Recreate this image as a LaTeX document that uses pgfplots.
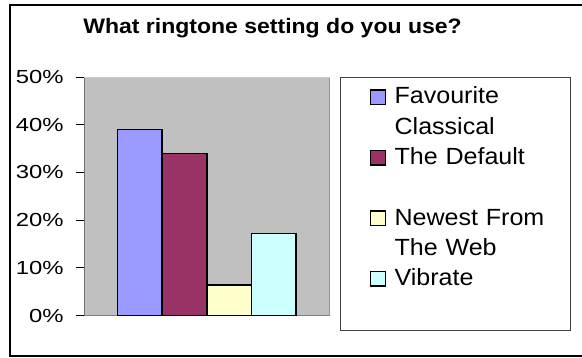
\documentclass[border=0pt]{standalone}
\usepackage{pgfplots}
\pgfplotsset{compat=1.18}
\usepackage{fontspec}
\setmainfont{Liberation Sans}
\newfontfamily\titlefam[FakeStretch=1.1]{Liberation Sans}
\newfontfamily\tickfam[FakeStretch=1.26]{Liberation Sans}
\newfontfamily\legfam[FakeStretch=1.07]{Liberation Sans}
\definecolor{c1}{HTML}{9999FF}
\definecolor{c2}{HTML}{993366}
\definecolor{c3}{HTML}{FFFFCC}
\definecolor{c4}{HTML}{CCFFFF}
\definecolor{plotgray}{HTML}{C0C0C0}
\definecolor{framedark}{HTML}{808080}
\begin{document}
\begin{tikzpicture}
\useasboundingbox (0,0) rectangle (582bp,358bp);
\draw[line width=2bp] (10bp,2bp) rectangle (600bp,353.3bp);
\node[anchor=base, font={\fontsize{21}{25}\titlefam\bfseries}, inner sep=0pt] at (272.5bp,324.7bp) {What ringtone setting do you use?};
\begin{axis}[
  at={(84bp,42.4bp)}, anchor=south west, scale only axis,
  width=245.5bp, height=238.6bp,
  xmin=0, xmax=2, ymin=0, ymax=50,
  ybar=0pt, bar width=44.7bp,
  xtick=\empty, ytick={0,10,...,50}, ytick pos=left,
  yticklabel={\pgfmathprintnumber[assume math mode=true]{\tick}\%},
  yticklabel style={font={\fontsize{19}{22}\tickfam}, inner sep=0pt, xshift=-12.3bp},
  tick align=outside, major tick length=8bp,
  ytick style={black, line width=0.8bp},
  axis line style={draw=none},
  axis background/.style={fill=plotgray},
  mylegend/.style={legend image code/.code={\path (0,0); \draw[##1] (29.3bp,-0.5bp) rectangle (44bp,14bp);}},
  legend style={at={(axis description cs:1.04277,0.99874)}, anchor=north west,
    draw=black!75, line width=1.2bp, fill=white,
    inner xsep=0pt, inner ysep=5bp, column sep=8.5bp, row sep=0pt,
    font={\fontsize{23.5}{30}\legfam},
    cells={anchor=base west},
    nodes={text width=175.8bp, text height=21bp, text depth=9.3bp, inner sep=0pt, align=left}},
]
\draw[color=framedark, line width=1.5bp] (rel axis cs:0,0) -- (rel axis cs:1,0) -- (rel axis cs:1,1);
\draw[color=black!55, line width=0.8bp] (rel axis cs:0,0) -- (rel axis cs:0,1);
\draw[color=black!20, line width=0.8bp] (rel axis cs:0,1) -- (rel axis cs:1,1);
\addplot[fill=c1, draw=black, line width=1.5bp, mylegend] coordinates {(1,39)};
\addlegendentry{Favourite}
\addlegendimage{empty legend}
\addlegendentry{Classical}
\addplot[fill=c2, draw=black, line width=1.5bp, mylegend] coordinates {(1,34)};
\addlegendentry{The Default}
\addlegendimage{empty legend}
\addlegendentry{\mbox{}}
\addplot[fill=c3, draw=black, line width=1.5bp, mylegend] coordinates {(1,6.4)};
\addlegendentry{Newest From}
\addlegendimage{empty legend}
\addlegendentry{The Web}
\addplot[fill=c4, draw=black, line width=1.5bp, mylegend] coordinates {(1,17.2)};
\addlegendentry{Vibrate}
\addlegendimage{empty legend}
\addlegendentry{\mbox{}}
\end{axis}
\end{tikzpicture}
\end{document}
